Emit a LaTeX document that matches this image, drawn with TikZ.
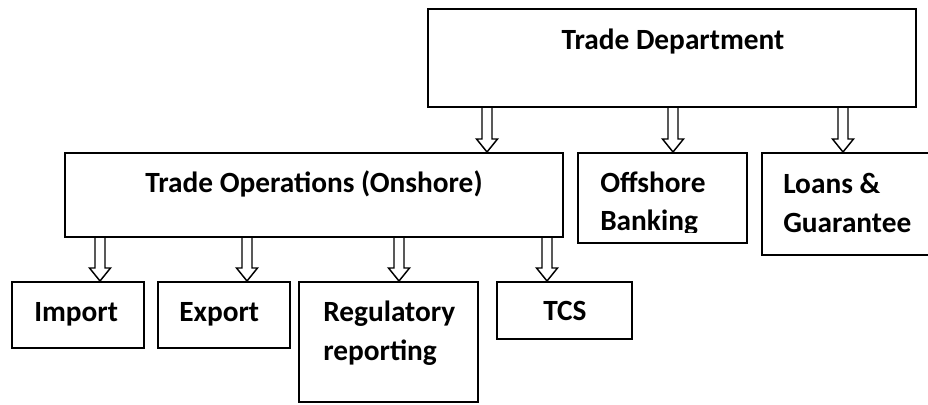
\documentclass[tikz,border=0pt]{standalone}
\usepackage{fontspec}
\setmainfont{Carlito}
\usetikzlibrary{calc}
\tikzset{
  boxst/.style={draw, line width=1.5pt, inner sep=0pt, fill=white},
  txt/.style={inner sep=0pt, font=\bfseries\fontsize{22}{26}\selectfont},
  harrowst/.style={draw, line width=1.1pt, line join=miter, fill=white}
}
\newcommand\mkbox[5]{% name, x1, y1, x2, y2
  \node[boxst, minimum width={(#4-#2)*0.75pt}, minimum height={(#5-#3)*0.75pt}] (#1) at ({(#2+#4)/2},{(#3+#5)/2}) {};}
\newcommand\harrow[3]{% from anchor, to anchor, x-coordinate name
  \path (#1 -| #3) coordinate (hA) (#2 -| #3) coordinate (hB);
  \draw[harrowst] ($(hA)+(-5,0)$) -- ($(hB)+(-5,-13)$) -- ($(hB)+(-10.5,-13)$) -- (hB)
     -- ($(hB)+(10.5,-13)$) -- ($(hB)+(5,-13)$) -- ($(hA)+(5,0)$);}
\begin{document}
\begin{tikzpicture}[x=0.75pt, y=-0.75pt]
\useasboundingbox (0,0) rectangle (928,404);
\fill[white] (0,0) rectangle (928,404);
% boxes
\mkbox{td}{428}{9}{916}{107}
\mkbox{ops}{65}{153}{563}{237}
\mkbox{off}{578}{153}{747}{243}
\mkbox{loans}{762}{153}{931}{255}
\mkbox{imp}{12}{282}{144}{348}
\mkbox{exp}{158}{282}{290}{348}
\mkbox{reg}{299}{282}{478}{402}
\mkbox{tcs}{497}{282}{632}{339}
% arrow x positions
\coordinate (a1) at (487,0);
\coordinate (a2) at (673,0);
\coordinate (a3) at (843,0);
\coordinate (b1) at (100,0);
\coordinate (b2) at (247,0);
\coordinate (b3) at (399,0);
\coordinate (b4) at (547,0);
\harrow{td.south}{ops.north}{a1}
\harrow{td.south}{off.north}{a2}
\harrow{td.south}{loans.north}{a3}
\harrow{ops.south}{imp.north}{b1}
\harrow{ops.south}{exp.north}{b2}
\harrow{ops.south}{reg.north}{b3}
\harrow{ops.south}{tcs.north}{b4}
% texts
\node[txt, anchor=base] (tdt) at (673,49) {Trade Department};
\node[txt, anchor=base] (opst) at (314,192) {Trade Operations (Onshore)};
\node[txt, anchor=base west] (offt1) at (600,192) {Offshore};
\begin{scope}
  \clip (578,153) rectangle (747,232);
  \node[txt, anchor=base west] (offt2) at (600,230) {Banking};
\end{scope}
\node[txt, anchor=base west] (lt1) at (783,193) {Loans \&};
\node[txt, anchor=base west] (lt2) at (783,232) {Guarantee};
\node[txt, anchor=base west] (impt) at (34,321) {Import};
\node[txt, anchor=base west] (expt) at (179,321) {Export};
\node[txt, anchor=base west] (regt1) at (323,321) {Regulatory};
\node[txt, anchor=base west] (regt2) at (323,360) {reporting};
\node[txt, anchor=base west] (tcst) at (543,320) {TCS};
\end{tikzpicture}
\end{document}
